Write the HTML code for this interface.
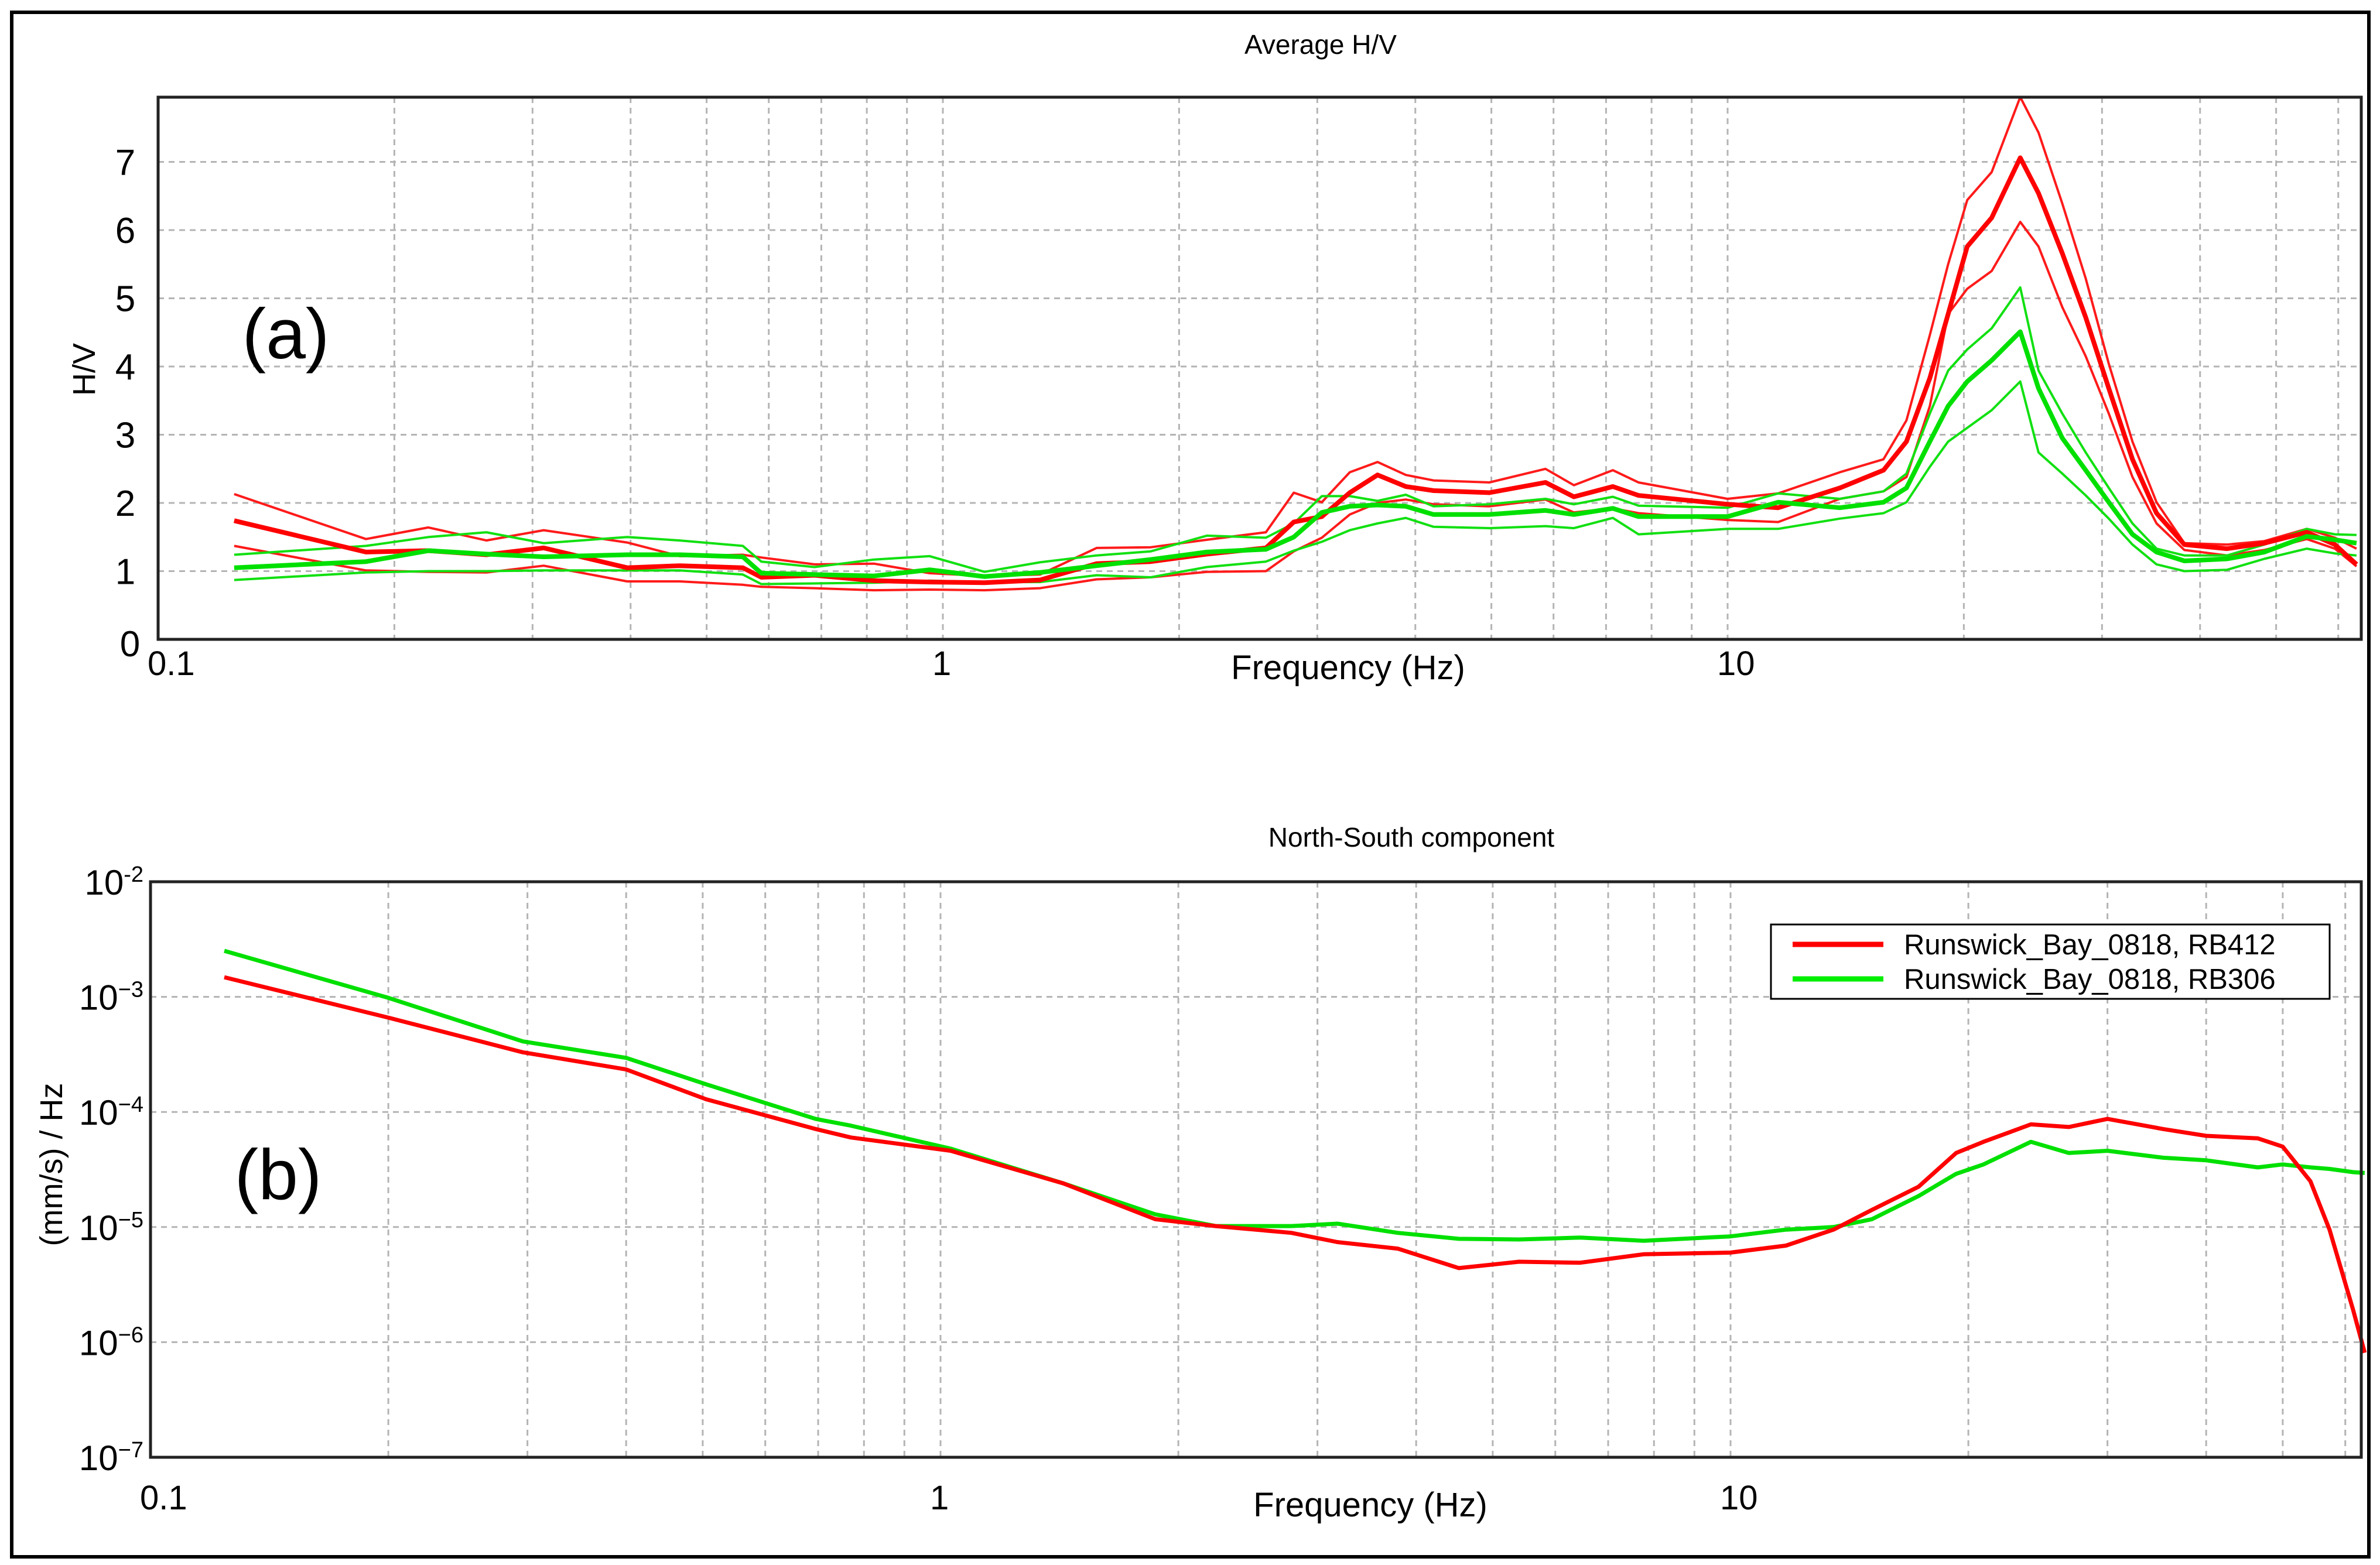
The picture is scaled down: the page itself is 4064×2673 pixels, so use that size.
<!DOCTYPE html>
<html><head><meta charset="utf-8"><style>
html,body{margin:0;padding:0;background:#fff;}
svg{display:block;font-family:"Liberation Sans",sans-serif;}
</style></head><body>
<svg id="chart" xmlns="http://www.w3.org/2000/svg" width="4064" height="2673" viewBox="0 0 4064 2673">
<rect x="0" y="0" width="4064" height="2673" fill="#fff"/>
<rect x="20" y="21" width="4025" height="2638" fill="none" stroke="#000" stroke-width="6"/>
<g id="gA"></g>
<g id="gB"></g>
<text x="2255" y="92" font-size="46" text-anchor="middle">Average H/V</text>
<text x="2302" y="1160" font-size="58" text-anchor="middle">Frequency (Hz)</text>
<text transform="translate(162,631) rotate(-90)" font-size="54" text-anchor="middle">H/V</text>
<text x="488" y="612" font-size="122" text-anchor="middle">(a)</text>
<text x="2410" y="1446" font-size="46" text-anchor="middle">North-South component</text>
<text x="2340" y="2590" font-size="58" text-anchor="middle">Frequency (Hz)</text>
<text transform="translate(106,1989) rotate(-90)" font-size="54" text-anchor="middle">(mm/s) / Hz</text>
<text x="475" y="2048" font-size="122" text-anchor="middle">(b)</text>
<g>
<rect x="3024" y="1579" width="954" height="127" fill="#fff" stroke="#000" stroke-width="3"/>
<line x1="3061" y1="1613" x2="3216" y2="1613" stroke="#ff0000" stroke-width="9"/>
<text x="3251" y="1630" font-size="49">Runswick_Bay_0818, RB412</text>
<line x1="3061" y1="1672" x2="3216" y2="1672" stroke="#00ee00" stroke-width="9"/>
<text x="3251" y="1689" font-size="49">Runswick_Bay_0818, RB306</text>
</g>
</svg>
<script>
// ---- Panel (a) data: H/V ----
const freqA = [0.125,0.184,0.221,0.262,0.31,0.396,0.462,0.556,
 0.587,0.686,0.817,0.962,1.13,1.33,1.57,1.84,2.17,2.58,2.80,3.04,3.30,3.58,3.89,4.22,4.97,5.86,6.37,7.14,
 7.7,10,11.6,13.9,15.8,16.9,18.1,19.1,20.2,21.7,23.6,24.9,26.7,28.6,30.6,32.8,35.2,38.2,43.3,48.3,54.7,59.4,63.3];
const redMean = [1.74,1.28,1.30,1.24,1.34,1.05,1.08,1.05,
 0.91,0.94,0.86,0.84,0.83,0.87,1.11,1.14,1.25,1.34,1.72,1.8,2.15,2.41,2.24,2.18,2.15,2.3,2.09,2.24,
 2.11,1.98,1.93,2.22,2.48,2.9,3.83,4.77,5.76,6.18,7.06,6.54,5.66,4.72,3.68,2.64,1.85,1.39,1.33,1.41,1.57,1.39,1.1];
const redUpper = [2.13,1.47,1.64,1.45,1.60,1.42,1.22,1.24,
 1.2,1.10,1.11,0.97,0.93,0.95,1.34,1.35,1.46,1.57,2.15,2.01,2.45,2.6,2.41,2.33,2.3,2.5,2.26,2.48,
 2.30,2.06,2.14,2.45,2.64,3.21,4.46,5.5,6.44,6.85,7.95,7.43,6.39,5.29,4.04,2.9,2.01,1.41,1.39,1.44,1.62,1.49,1.33];
const redLower = [1.37,1.01,0.99,0.98,1.08,0.85,0.85,0.80,
 0.77,0.75,0.72,0.73,0.72,0.75,0.88,0.91,0.99,1.0,1.29,1.49,1.83,2.0,2.05,1.98,1.95,2.05,1.86,1.92,
 1.85,1.75,1.72,2.06,2.17,2.38,3.42,4.77,5.14,5.4,6.12,5.76,4.87,4.15,3.31,2.38,1.7,1.31,1.23,1.31,1.47,1.33,1.07];
const greenMean = [1.05,1.14,1.30,1.25,1.21,1.24,1.24,1.21,
 0.97,0.95,0.93,1.02,0.92,0.98,1.08,1.17,1.28,1.32,1.5,1.86,1.95,1.97,1.95,1.83,1.83,1.89,1.83,1.92,
 1.80,1.80,2.01,1.93,2.01,2.22,2.9,3.42,3.78,4.09,4.51,3.68,2.95,2.48,2.01,1.54,1.28,1.15,1.18,1.28,1.51,1.46,1.41];
const greenUpper = [1.24,1.37,1.50,1.57,1.41,1.50,1.45,1.37,
 1.14,1.06,1.17,1.22,0.99,1.13,1.23,1.29,1.52,1.49,1.7,2.1,2.1,2.03,2.12,1.95,1.98,2.06,1.98,2.09,
 1.96,1.93,2.14,2.06,2.17,2.43,3.31,3.94,4.25,4.56,5.16,3.94,3.31,2.74,2.22,1.7,1.33,1.23,1.23,1.39,1.62,1.54,1.53];
const greenLower = [0.87,0.98,1.0,1.0,1.01,1.01,1.01,0.95,
 0.81,0.82,0.83,0.86,0.84,0.84,0.94,0.91,1.06,1.14,1.3,1.43,1.6,1.7,1.78,1.65,1.63,1.66,1.63,1.78,
 1.54,1.62,1.62,1.77,1.85,2.01,2.53,2.9,3.1,3.36,3.78,2.74,2.43,2.11,1.77,1.39,1.1,1.0,1.02,1.18,1.33,1.26,1.23];
const yTicksA = ["0","1","2","3","4","5","6","7"];
const xTickLabels = ["0.1","1","10"];

// ---- Panel (b) data: spectra ----
const freqB = [0.124,0.2,0.296,0.40,0.505,0.695,0.77,1.03,1.43,1.87,2.23,2.78,3.18,3.79,4.53,5.4,6.45,
 7.76,10,11.75,13.5,15.1,17.3,19.3,20.9,24,26.8,30,35.3,40,46.5,50,54.2,57.3,61.4,63.5];
const specRB412 = [1.48e-3,6.6e-4,3.3e-4,2.34e-4,1.29e-4,7.1e-5,6.0e-5,4.6e-5,2.4e-5,1.17e-5,1.02e-5,8.9e-6,7.4e-6,6.5e-6,4.4e-6,5.0e-6,4.9e-6,
 5.8e-6,6.0e-6,6.9e-6,9.5e-6,1.41e-5,2.24e-5,4.4e-5,5.5e-5,7.8e-5,7.4e-5,8.7e-5,7.1e-5,6.2e-5,5.9e-5,5.0e-5,2.5e-5,9.5e-6,1.9e-6,8.1e-7];
const specRB306 = [2.51e-3,9.8e-4,4.1e-4,2.95e-4,1.74e-4,8.7e-5,7.6e-5,4.8e-5,2.4e-5,1.29e-5,1.02e-5,1.02e-5,1.07e-5,8.9e-6,7.9e-6,7.8e-6,8.1e-6,
 7.6e-6,8.3e-6,9.5e-6,1.0e-5,1.17e-5,1.86e-5,2.9e-5,3.5e-5,5.5e-5,4.4e-5,4.6e-5,4.0e-5,3.8e-5,3.3e-5,3.5e-5,3.3e-5,3.2e-5,3.0e-5,2.95e-5];
const yExpB = [-2,-3,-4,-5,-6,-7];

const NS = "http://www.w3.org/2000/svg";
function mk(tag, attrs, parent){ const e=document.createElementNS(NS,tag); for(const k in attrs) e.setAttribute(k,attrs[k]); parent.appendChild(e); return e; }

function drawPanel(g, P){
  const xS = f => P.x0 + (Math.log10(f)+1)*P.dec;
  const minor=[];
  for(let d=0.1; d<=10; d*=10) for(let m=1;m<=9;m++){ const f=+(m*d).toFixed(3); if(f>0.1 && xS(f)<P.x1-2) minor.push(f); }
  minor.forEach(f=>{
    const l=mk('line',{x1:xS(f),x2:xS(f),y1:P.y0,y2:P.y1,stroke:'#b4b4b4','stroke-width':3,'stroke-dasharray':'10 8'},g);
    
    
  });
  P.hgrid.forEach(v=>{
    const y=P.yS(v);
    const l=mk('line',{x1:P.x0,x2:P.x1,y1:y,y2:y,stroke:'#b4b4b4','stroke-width':3,'stroke-dasharray':'10 8'},g);
    
    
  });
  P.series.forEach(s=>{
    const pts=s.f.map((f,i)=>xS(f).toFixed(1)+','+P.yS(s.v[i]).toFixed(1)).join(' ');
    const pl=mk('polyline',{points:pts,fill:'none',stroke:s.c,'stroke-width':s.w,'stroke-linejoin':'round'},g);
    
    
  });
  const r=mk('rect',{x:P.x0,y:P.y0,width:P.x1-P.x0,height:P.y1-P.y0,fill:'none',stroke:'#222','stroke-width':5},g);
  
  
  [0.1,1,10].forEach((f,i)=>{
    const t=mk('text',{x:xS(f)-18,y:P.xLabY,'font-size':58},g);
    t.textContent=xTickLabels[i];
    
    
  });
  return xS;
}

const PA={x0:270,x1:4032,y0:166,y1:1092,dec:1340,xLabY:1153,
  yS:v=>1092-v*116.5, hgrid:[1,2,3,4,5,6,7],
  series:[
    {f:freqA,v:redUpper,c:'#ff1a1a',w:4,name:'rb412-hv-upper'},
    {f:freqA,v:redLower,c:'#ff1a1a',w:4,name:'rb412-hv-lower'},
    {f:freqA,v:greenUpper,c:'#11e011',w:4,name:'rb306-hv-upper'},
    {f:freqA,v:greenLower,c:'#11e011',w:4,name:'rb306-hv-lower'},
    {f:freqA,v:redMean,c:'#ff0000',w:8,name:'rb412-hv-mean'},
    {f:freqA,v:greenMean,c:'#00e000',w:8,name:'rb306-hv-mean'}]};
drawPanel(document.getElementById('gA'),PA);
const gA=document.getElementById('gA');
yTicksA.forEach((s,i)=>{
  const t=mk('text',{x:i===0?222:214,y:i===0?1121:PA.yS(i)+22,'font-size':62,'text-anchor':'middle'},gA);
  t.textContent=s;
  
  
});

const PB={x0:257,x1:4032,y0:1506,y1:2489,dec:1349,xLabY:2578,
  yS:v=>1506-(Math.log10(v)+2)*196.6, hgrid:[1e-3,1e-4,1e-5,1e-6],
  series:[
    {f:freqB,v:specRB306,c:'#00e000',w:7,name:'rb306-spectrum'},
    {f:freqB,v:specRB412,c:'#ff0000',w:7,name:'rb412-spectrum'}]};
drawPanel(document.getElementById('gB'),PB);
const gB=document.getElementById('gB');
yExpB.forEach(e=>{
  const y=PB.yS(Math.pow(10,e))+22;
  const t=mk('text',{x:245,y:y,'font-size':60,'text-anchor':'end'},gB);
  const a=document.createElementNS(NS,'tspan'); a.textContent='10'; t.appendChild(a);
  const b=document.createElementNS(NS,'tspan'); b.setAttribute('font-size','38'); b.setAttribute('dy','-22'); b.textContent=(e===-2?'-':'\u2212')+Math.abs(e); t.appendChild(b);
  
  
});
</script>
</body></html>
